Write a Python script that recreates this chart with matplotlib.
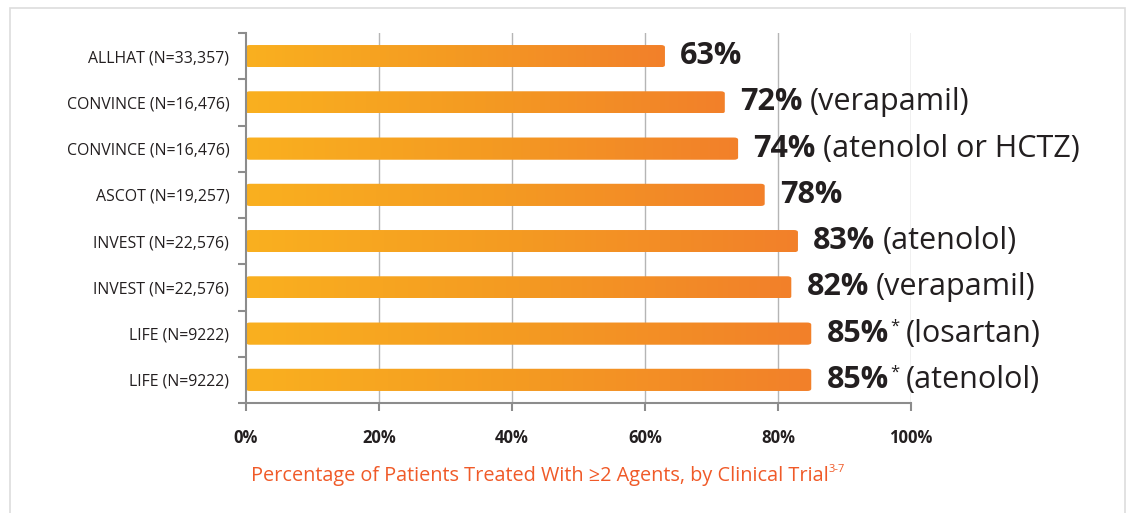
import numpy as np
import matplotlib
matplotlib.use("Agg")
import matplotlib.pyplot as plt
from matplotlib.patches import FancyBboxPatch, Rectangle
from matplotlib.colors import LinearSegmentedColormap
from matplotlib.ticker import FixedLocator

plt.rcParams['font.family'] = ['Open Sans', 'DejaVu Sans']

trials = ["ALLHAT (N=33,357)", "CONVINCE (N=16,476)", "CONVINCE (N=16,476)",
          "ASCOT (N=19,257)", "INVEST (N=22,576)", "INVEST (N=22,576)",
          "LIFE (N=9222)", "LIFE (N=9222)"]
values = [63, 72, 74, 78, 83, 82, 85, 85]
value_labels = ["63%", "72%", "74%", "78%", "83%", "82%", "85%", "85%"]
stars = ["", "", "", "", "", "", "*", "*"]
drugs = ["", "(verapamil)", "(atenolol or HCTZ)", "", "(atenolol)",
         "(verapamil)", "(losartan)", "(atenolol)"]
xticks = [0, 20, 40, 60, 80, 100]
xtick_labels = ["0%", "20%", "40%", "60%", "80%", "100%"]

fig = plt.figure(figsize=(11.35, 5.13), dpi=100)
fig.patch.set_facecolor("white")

# light frame round the panel
fig.patches.append(Rectangle((10 / 1135, -0.02), 1115 / 1135, 1 - 8 / 513 + 0.02,
                             transform=fig.transFigure, fill=False,
                             edgecolor="#DDDDDD", lw=1.2))

ax = fig.add_axes([246 / 1135, 110 / 513, 665 / 1135, 370 / 513])
ax.set_xlim(0, 100)
ax.set_ylim(7.5, -0.5)

grid_col = "#B5B5B5"
for x in xticks[1:]:
    ax.axvline(x, color=grid_col, lw=1, zorder=0)

cmap = LinearSegmentedColormap.from_list("bar", ["#FAB01F", "#F49A22", "#F2802A"])
grad = np.linspace(0, 1, 256).reshape(1, -1)
bh = 0.48
for i, v in enumerate(values):
    patch = FancyBboxPatch((0, i - bh / 2), v, bh,
                           boxstyle="round,pad=0,rounding_size=0.6",
                           mutation_aspect=0.08,
                           facecolor="none", edgecolor="none")
    ax.add_patch(patch)
    im = ax.imshow(grad, cmap=cmap, extent=(0, v, i + bh / 2, i - bh / 2),
                   aspect="auto", zorder=2)
    im.set_clip_path(patch)
ax.set_xlim(0, 100)
ax.set_ylim(7.5, -0.5)

# axes styling
for s in ["top", "right"]:
    ax.spines[s].set_visible(False)
ax.spines["left"].set_color("#8C8C8C")
ax.spines["bottom"].set_color("#8C8C8C")
ax.spines["left"].set_linewidth(1.5)
ax.spines["bottom"].set_linewidth(1.5)

ax.set_yticks(range(len(trials)))
ax.set_yticklabels(trials, fontsize=11.4, color="#231F20")
ax.tick_params(axis="y", which="major", length=0, pad=12)
ax.yaxis.set_minor_locator(FixedLocator(np.arange(-0.5, 8, 1)))
ax.tick_params(axis="y", which="minor", length=6, width=1.5, color="#8C8C8C")

ax.set_xticks(xticks)
ax.set_xticklabels(xtick_labels, fontsize=12, fontweight="bold", color="#231F20")
ax.tick_params(axis="x", which="major", length=6, width=1.5, color="#8C8C8C", pad=13)

# value labels: bold percent, optional superscript star, plain drug name
fig.canvas.draw()
renderer = fig.canvas.get_renderer()
inv = ax.transData.inverted()
for i, v in enumerate(values):
    t = ax.annotate(value_labels[i], (v, i), xytext=(11, 0), textcoords="offset points",
                    ha="left", va="center", fontsize=22, fontweight="bold",
                    color="#231F20", annotation_clip=False)
    bb = t.get_window_extent(renderer)
    x_end = bb.x1
    if stars[i]:
        s = ax.annotate(stars[i], (inv.transform((x_end, 0))[0], i), xytext=(1, 5),
                        textcoords="offset points", ha="left", va="center",
                        fontsize=12, color="#231F20", annotation_clip=False)
        x_end = s.get_window_extent(renderer).x1
    if drugs[i]:
        ax.annotate(drugs[i], (inv.transform((x_end, 0))[0], i), xytext=(5, 0),
                    textcoords="offset points", ha="left", va="center",
                    fontsize=22, color="#231F20", annotation_clip=False)

# caption under the axis
cap = fig.text(540 / 1135, 1 - 476 / 513, "Percentage of Patients Treated With \u22652 Agents, by Clinical Trial",
               ha="center", va="center", fontsize=14.3, color="#F05A28")
cb = cap.get_window_extent(renderer)
fig.text(cb.x1 / 1135, 1 - 470 / 513, "3-7", ha="left", va="center",
         fontsize=8, color="#F05A28")

fig.savefig("out.png", dpi=100)
